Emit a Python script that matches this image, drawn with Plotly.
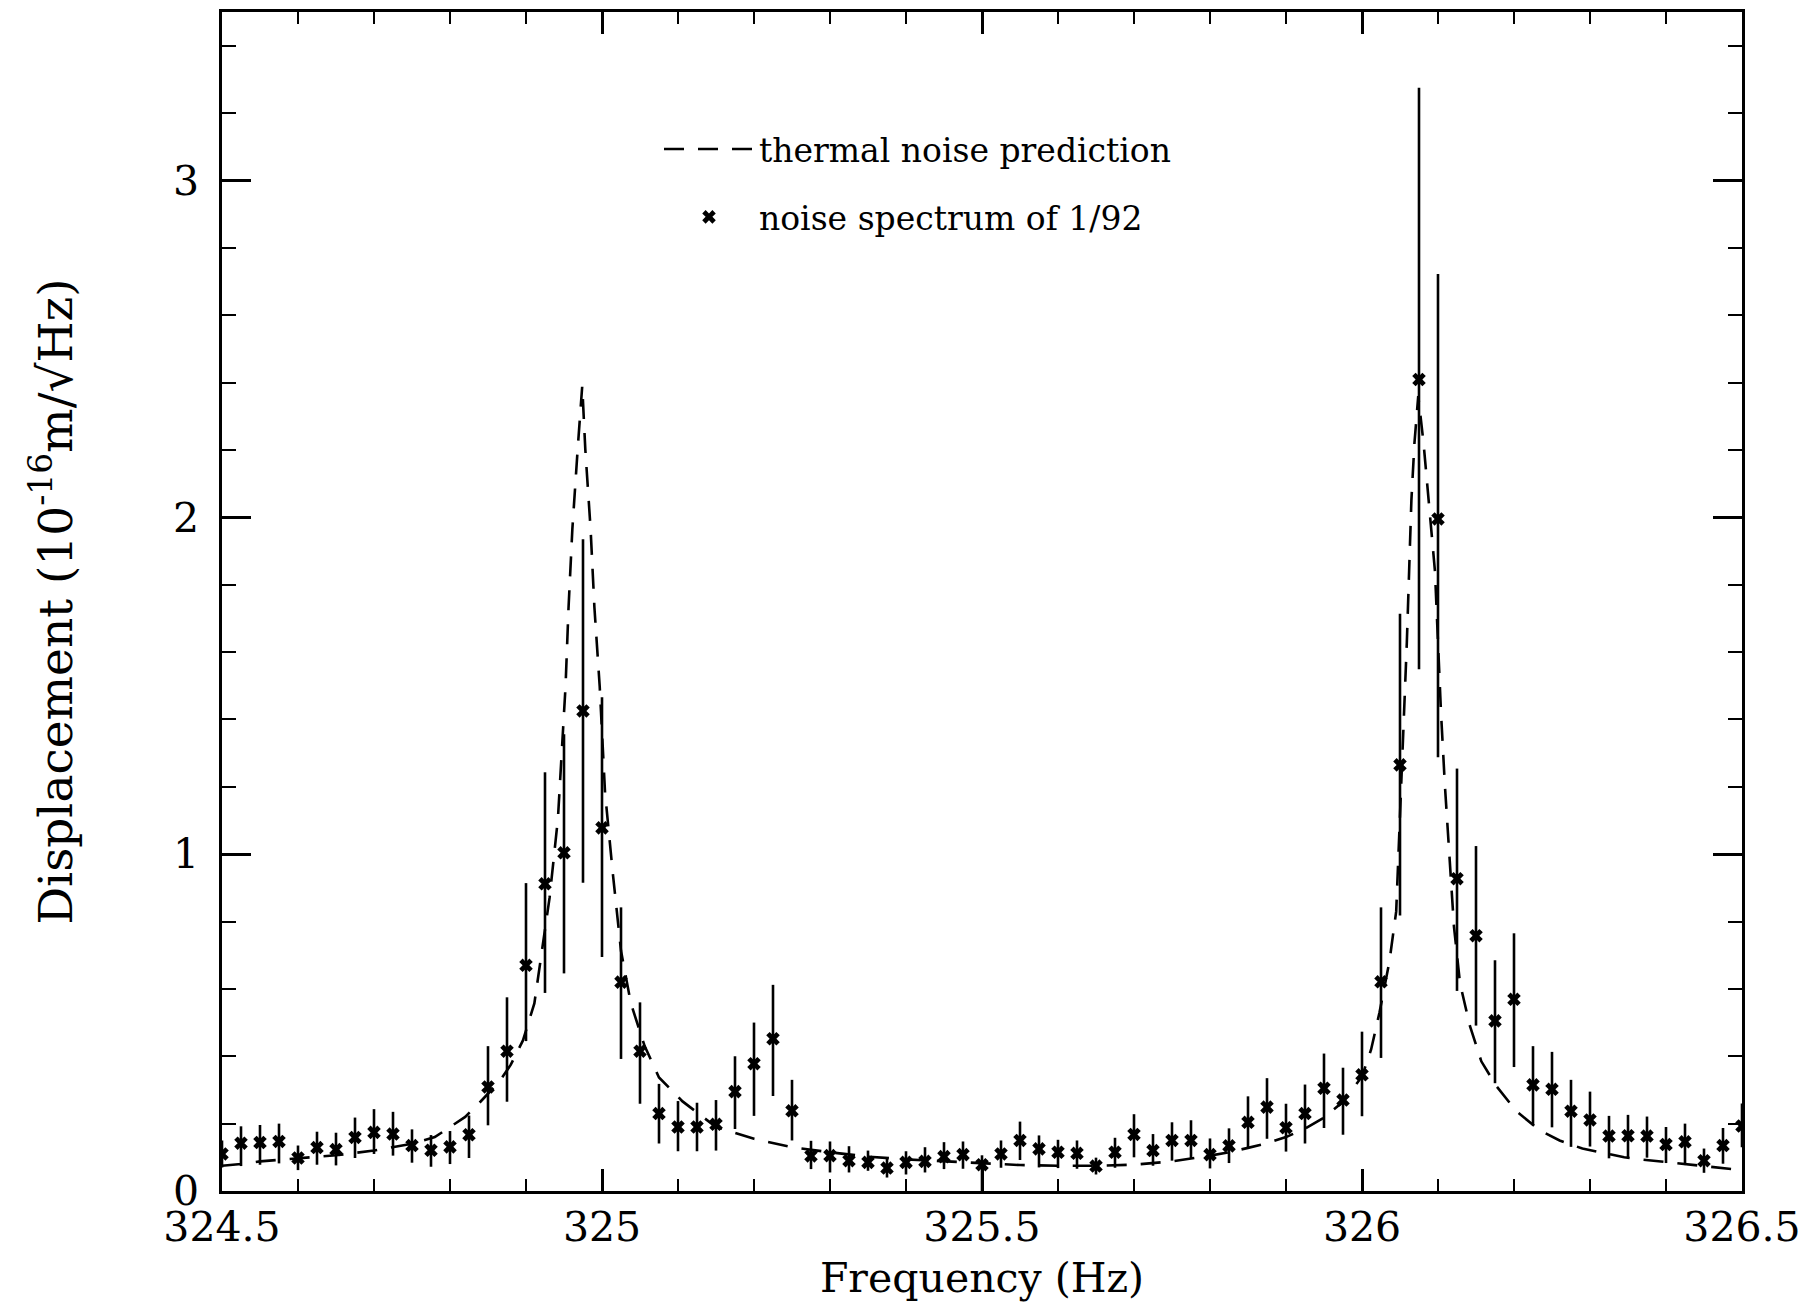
import numpy as np
import plotly.graph_objects as go

# ---- measured noise spectrum (frequency bins, displacement, error-bar ends) ----
freq = [324.500, 324.525, 324.550, 324.575, 324.600, 324.625, 324.650, 324.675, 324.700, 324.725,
        324.750, 324.775, 324.800, 324.825, 324.850, 324.875, 324.900, 324.925, 324.950, 324.975,
        325.000, 325.025, 325.050, 325.075, 325.100, 325.125, 325.150, 325.175, 325.200, 325.225,
        325.250, 325.275, 325.300, 325.325, 325.350, 325.375, 325.400, 325.425, 325.450, 325.475,
        325.500, 325.525, 325.550, 325.575, 325.600, 325.625, 325.650, 325.675, 325.700, 325.725,
        325.750, 325.775, 325.800, 325.825, 325.850, 325.875, 325.900, 325.925, 325.950, 325.975,
        326.000, 326.025, 326.050, 326.075, 326.100, 326.125, 326.150, 326.175, 326.200, 326.225,
        326.250, 326.275, 326.300, 326.325, 326.350, 326.375, 326.400, 326.425, 326.450, 326.475,
        326.500]

disp = [0.110, 0.142, 0.144, 0.147, 0.098, 0.129, 0.123, 0.159, 0.174, 0.169,
        0.135, 0.121, 0.131, 0.167, 0.309, 0.415, 0.670, 0.912, 1.004, 1.425,
        1.078, 0.620, 0.415, 0.230, 0.190, 0.190, 0.198, 0.295, 0.378, 0.452,
        0.238, 0.104, 0.105, 0.090, 0.085, 0.068, 0.085, 0.088, 0.102, 0.108,
        0.078, 0.110, 0.150, 0.125, 0.115, 0.112, 0.074, 0.115, 0.168, 0.120,
        0.150, 0.150, 0.108, 0.134, 0.204, 0.249, 0.188, 0.230, 0.305, 0.270,
        0.345, 0.621, 1.265, 2.409, 1.995, 0.927, 0.758, 0.505, 0.569, 0.315,
        0.302, 0.237, 0.211, 0.163, 0.164, 0.163, 0.138, 0.146, 0.090, 0.135,
        0.193]

disp_upper = [0.150, 0.192, 0.196, 0.200, 0.135, 0.176, 0.173, 0.218, 0.243, 0.235,
              0.183, 0.166, 0.178, 0.224, 0.430, 0.575, 0.914, 1.243, 1.356, 1.935,
              1.466, 0.842, 0.560, 0.318, 0.267, 0.262, 0.270, 0.400, 0.500, 0.612,
              0.330, 0.149, 0.147, 0.133, 0.120, 0.095, 0.118, 0.130, 0.145, 0.147,
              0.106, 0.150, 0.206, 0.165, 0.152, 0.150, 0.099, 0.158, 0.228, 0.169,
              0.204, 0.210, 0.156, 0.186, 0.281, 0.335, 0.259, 0.316, 0.408, 0.366,
              0.473, 0.842, 1.714, 3.275, 2.722, 1.254, 1.024, 0.685, 0.765, 0.430,
              0.413, 0.330, 0.295, 0.223, 0.226, 0.221, 0.190, 0.200, 0.126, 0.187,
              0.260]

disp_lower = [0.070, 0.074, 0.078, 0.082, 0.062, 0.078, 0.076, 0.098, 0.110, 0.105,
              0.084, 0.072, 0.080, 0.098, 0.195, 0.265, 0.445, 0.588, 0.646, 0.915,
              0.695, 0.392, 0.259, 0.141, 0.118, 0.118, 0.120, 0.184, 0.223, 0.282,
              0.150, 0.065, 0.055, 0.055, 0.060, 0.040, 0.049, 0.055, 0.065, 0.066,
              0.000, 0.069, 0.092, 0.070, 0.068, 0.066, 0.049, 0.069, 0.100, 0.075,
              0.090, 0.097, 0.067, 0.083, 0.126, 0.155, 0.117, 0.141, 0.187, 0.167,
              0.222, 0.395, 0.818, 1.549, 1.288, 0.594, 0.491, 0.320, 0.368, 0.195,
              0.189, 0.131, 0.132, 0.097, 0.100, 0.099, 0.083, 0.077, 0.054, 0.081,
              0.130]

# ---- thermal noise prediction ----
theory_freq = [324.500, 324.525, 324.550, 324.600, 324.650, 324.700, 324.750, 324.780, 324.800, 324.820,
               324.840, 324.865, 324.880, 324.896, 324.911, 324.920, 324.931, 324.942, 324.948, 324.952,
               324.956, 324.961, 324.968, 324.974, 324.978, 324.985, 324.990, 324.997, 325.004, 325.014,
               325.025, 325.038, 325.056, 325.075, 325.106, 325.130, 325.150, 325.200, 325.250, 325.300,
               325.350, 325.400, 325.450, 325.500, 325.550, 325.600, 325.650, 325.700, 325.750, 325.800,
               325.825, 325.850, 325.875, 325.900, 325.925, 325.950, 325.975, 326.000, 326.012, 326.023,
               326.036, 326.045, 326.048, 326.052, 326.056, 326.059, 326.062, 326.065, 326.069, 326.074,
               326.081, 326.088, 326.096, 326.100, 326.104, 326.109, 326.115, 326.121, 326.129, 326.142,
               326.157, 326.177, 326.203, 326.234, 326.260, 326.290, 326.320, 326.345, 326.370, 326.395,
               326.420, 326.440, 326.465, 326.500]

theory_disp = [0.075, 0.080, 0.088, 0.098, 0.106, 0.120, 0.140, 0.160, 0.190, 0.220,
               0.265, 0.325, 0.375, 0.447, 0.557, 0.700, 0.870, 1.105, 1.340, 1.497,
               1.733, 1.965, 2.203, 2.390, 2.203, 1.965, 1.733, 1.497, 1.183, 0.948,
               0.713, 0.557, 0.431, 0.337, 0.266, 0.225, 0.190, 0.155, 0.130, 0.115,
               0.102, 0.094, 0.088, 0.082, 0.077, 0.075, 0.075, 0.078, 0.088, 0.105,
               0.115, 0.128, 0.142, 0.160, 0.185, 0.218, 0.265, 0.340, 0.420, 0.530,
               0.680, 0.830, 1.000, 1.207, 1.418, 1.629, 1.840, 2.051, 2.220, 2.360,
               2.220, 2.051, 1.840, 1.629, 1.418, 1.207, 0.996, 0.785, 0.616, 0.490,
               0.385, 0.311, 0.237, 0.180, 0.150, 0.126, 0.112, 0.100, 0.093, 0.087,
               0.080, 0.075, 0.070, 0.062]

x_tick_vals = [324.5, 325.0, 325.5, 326.0, 326.5]
x_tick_text = ["324.5", "325", "325.5", "326", "326.5"]
y_tick_vals = [0, 1, 2, 3]
y_tick_text = ["0", "1", "2", "3"]

FONT = "DejaVu Serif"

d = np.array(disp)
err_plus = np.array(disp_upper) - d
err_minus = d - np.array(disp_lower)

fig = go.Figure()

fig.add_trace(go.Scatter(
    x=theory_freq, y=theory_disp, mode="lines",
    name="thermal noise prediction",
    line=dict(color="black", width=2.6, dash="20px,14px"),
    legendgroup="a",
))

fig.add_trace(go.Scatter(
    x=freq, y=disp, mode="markers",
    name="noise spectrum of 1/92",
    marker=dict(symbol="x", size=12, color="black", line=dict(width=0)),
    error_y=dict(type="data", symmetric=False, array=err_plus, arrayminus=err_minus,
                 color="black", thickness=2.6, width=0),
    legendgroup="b",
))

axis_common = dict(
    showgrid=False, zeroline=False,
    showline=True, linecolor="black", linewidth=2.6,
    mirror="allticks", ticks="inside", tickcolor="black", tickwidth=2.6,
    tickfont=dict(family=FONT, size=41, color="black"),
)

fig.update_xaxes(
    range=[324.5, 326.5], tickvals=x_tick_vals, ticktext=x_tick_text, ticklen=22,
    minor=dict(tick0=324.5, dtick=0.1, ticks="inside", ticklen=12, tickwidth=2.2, tickcolor="black"),
    title=dict(text="Frequency (Hz)", font=dict(family=FONT, size=41, color="black"), standoff=14),
    ticklabelstandoff=-2,
    **axis_common,
)
fig.update_yaxes(
    range=[0, 3.5], tickvals=y_tick_vals, ticktext=y_tick_text, ticklen=29,
    minor=dict(tick0=0, dtick=0.2, ticks="inside", ticklen=14, tickwidth=2.2, tickcolor="black"),
    title=dict(text="Displacement (10<sup>-16</sup>m/√Hz)",
               font=dict(family=FONT, size=47, color="black"), standoff=86),
    ticklabelstandoff=12,
    **axis_common,
)

fig.update_layout(
    width=1806, height=1306,
    margin=dict(l=222, r=64, t=12, b=115, autoexpand=False),
    paper_bgcolor="white", plot_bgcolor="white",
    font=dict(family=FONT, color="black"),
    showlegend=True,
    legend=dict(
        x=(659 - 222) / 1520, y=1 - (121 - 12) / 1179, xanchor="left", yanchor="top",
        bgcolor="rgba(0,0,0,0)", borderwidth=0,
        font=dict(family=FONT, size=33, color="black"),
        itemwidth=90, traceorder="grouped", tracegroupgap=22,
    ),
)

fig.write_html("out.html")
